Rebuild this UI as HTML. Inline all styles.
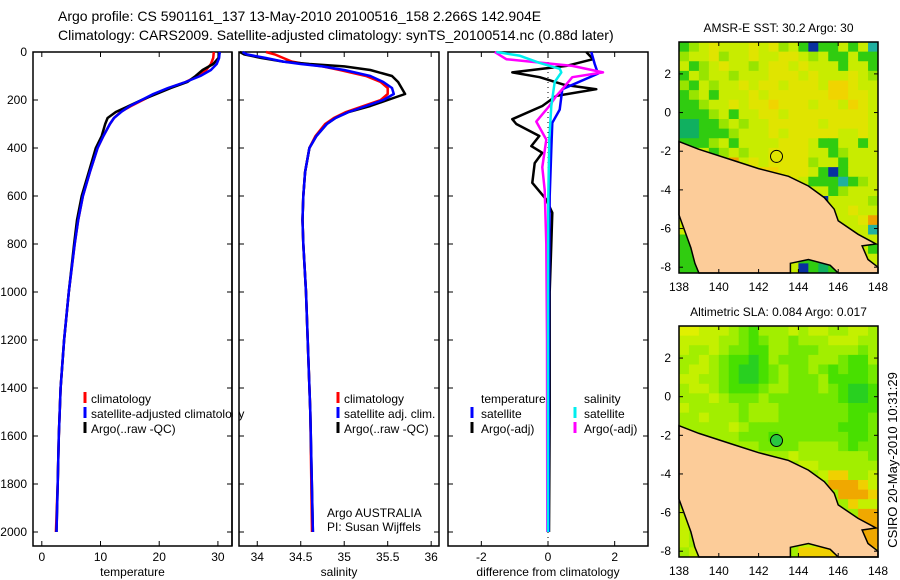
<!DOCTYPE html>
<html><head><meta charset="utf-8">
<style>
html,body{margin:0;padding:0;background:#fff;}
svg{display:block;font-family:"Liberation Sans",sans-serif;}
text{fill:#000;}
</style></head>
<body>
<svg id="fig" width="900" height="580" viewBox="0 0 900 580" xmlns="http://www.w3.org/2000/svg">
<text x="58" y="21" font-size="14">Argo profile: CS 5901161_137 13-May-2010 20100516_158 2.266S 142.904E</text>
<text x="58" y="40" font-size="14">Climatology: CARS2009. Satellite-adjusted climatology: synTS_20100514.nc (0.88d later)</text>
</svg>
<script>
// ---------- data ----------
const tDepth=[0,25,50,75,100,125,150,175,200,225,250,275,300,350,400,500,600,700,800,1000,1200,1400,1600,1800,2000];
const tClim=[29.3,29.2,28.8,28,26.6,24.5,21.6,19.2,17.2,15.2,13.4,12.3,11.6,10.5,9.5,8.2,7,6.2,5.6,4.6,3.8,3.2,2.9,2.7,2.4];
const tSat=[30.3,30.2,29.8,28.8,27,24.5,21.5,19,17,15,13.5,12.3,11.6,10.5,9.5,8.2,7,6.2,5.6,4.6,3.8,3.2,2.9,2.7,2.5];
const tArgo=[30.3,30.1,29.2,27.4,26.2,24.8,22,19.5,17,14.8,12.6,11.2,10.8,10.2,9.2,8,6.8,6.0,5.5,4.6,3.8,3.2,2.9,2.7,2.5];
const sDepth=[0,10,25,40,50,60,75,100,125,150,175,200,225,250,275,300,350,400,500,600,700,800,1000,1200,1500,2000];
const sArgo=[33.8,33.85,34.05,34.3,34.6,35.0,35.3,35.55,35.62,35.66,35.7,35.5,35.3,35.05,34.9,34.8,34.68,34.6,34.55,34.53,34.52,34.53,34.56,34.58,34.61,34.64];
const sSat=[33.83,33.88,34.1,34.3,34.5,34.75,35.0,35.3,35.45,35.55,35.57,35.45,35.25,35.05,34.9,34.8,34.68,34.6,34.55,34.53,34.52,34.53,34.56,34.58,34.61,34.64];
const sClim=[34.1,34.2,34.3,34.4,34.55,34.75,34.95,35.25,35.42,35.5,35.5,35.42,35.22,35.02,34.88,34.78,34.67,34.6,34.55,34.53,34.52,34.53,34.56,34.58,34.61,34.63];
const dTSatDepth=[0,50,90,155,240,295,405,600,1000,2000];
const dTSat=[1.3,1.4,1.5,0.43,0.35,0.13,0.1,0.05,0.03,0.02];
const dTArgoDepth=[0,30,58,85,105,137,155,183,225,280,300,350,392,420,463,545,615,670,800,1000,1500,2000];
const dTArgo=[1.15,1.35,0.55,-1.07,-0.25,0.5,1.45,0.25,-0.17,-1.07,-0.95,-0.26,-0.5,-0.17,-0.4,-0.47,-0.05,0.13,0.1,0.05,0.05,0.03];
const dSArgoDepth=[0,30,58,85,105,155,183,225,290,365,480,575,800,1200,2000];
const dSArgo=[-1.6,-1.25,0.73,1.65,0.73,0.43,0.25,0.04,-0.35,-0.05,-0.17,-0.1,-0.05,-0.03,-0.02];
const dSSatDepth=[0,15,45,70,85,125,225,365,600,1000,2000];
const dSSat=[-1.55,-0.86,-0.26,0.35,0.4,0.2,0.1,0.04,0.01,0,0];
const depthTicks=[0,200,400,600,800,1000,1200,1400,1600,1800,2000];
const tTicks=[0,10,20,30];
const sTicks=[34,34.5,35,35.5,36];
const dTicks=[-2,0,2];
const latTicks=[2,0,-2,-4,-6,-8];
const lonTicks=[138,140,142,144,146,148];
const sstGrid=[
"GgayaaayaygaGbGGaGac","gaaygaayaayyagaGGaGG","aGgayaagayyayaaaGaaG","Gagaagaaayyyayaaayag",
"gGagaayayyayyyaYYyaa","GgaGaaayayyyyyyYYyya","GGgaayayyYyyyayyaYya","GGGgaGaayyayyyyyyyya",
"DDGGgagaayyyyyayyyya","DDGGGgaaayayyyyyaaya","GGGgaGaaaayyyaGGaaGa","xxxGgagaayyyyaaGgxxa",
"xxxxxoayayyyygaaGaaa","xxxxxxxyYYyyyaGbGaaa","xxxxxxxxxxyyaGGGcGga","xxxxxxxxxxxxyaaGgaaa",
"xxxxxxxxxxxxxxbaaaag","xxxxxxxxxxxxxxxaayaa","aGxxxxxxxxxxxxxxaayo","aGxxxxxxxxxxxxxxxaac",
"Gaxxxxxxxxxxxxxxxxaa","GGxxxxxxxxxxxxxxxaaG","GGxxxxxxxxxxGGGGxxxa","GGxxxxxxxxxxbGDGGxxa"];
const slaGrid=[
"YYyyyLgGLLLyLyyLLyyL","yyyyLLgGgLLgLLLyyyLL","yLLyLggGGLLgggLLLLgL","LLyLgGGHGLgggLLLgGGL",
"LyyLgGHHGgLggLgGgGGg","yyLLgGHHGgLgggLGGGGg","LyyLgGGGgLLgggLgGHHG","LLLyLgggLgggggggGHHG",
"yLLLLLgLLLgggggggGGG","LLyLLLgLLLgggggggGGg","xxxLLyLgggggggggGGGg","xxxxxxgggGgggggggGGg",
"xxxxxxxxggggLLLLgGgg","xxxxxxxxxxxyLLLLLLLg","xxxxxxxxxxxxyyLLLLLL","xxxxxxxxxxxxxxyooLLy",
"xxxxxxxxxxxxxxxOOOoy","LLxxxxxxxxxxxxxxOOOo","Lyxxxxxxxxxxxxxxxoyy","yyxxxxxxxxxxxxxxxxOO",
"yyxxxxxxxxxxxxxxxxOO","yLxxxxxxxxxxxxxxxxOO","yLxxxxxxxxxxyyoooxOO","Lyxxxxxxxxxxooooooxo"];
const landLon=[138,139,140.8,142,143.5,144.5,145.3,145.8,146,147,147.9,147.2,147.5,148,148,146,145.6,144.5,143.6,143.6,139.0,138.8,138.6,138];
const landLat=[-1.5,-1.9,-2.5,-2.9,-3.3,-3.8,-4.4,-5.0,-5.6,-6.3,-6.8,-6.9,-7.6,-8.0,-8.4,-8.4,-7.9,-7.6,-7.8,-8.4,-8.4,-7.8,-7.0,-5.3];
const argoLon=142.9, argoLat=-2.27;

// ---------- helpers ----------
const svg=document.getElementById('fig');
const NS='http://www.w3.org/2000/svg';
function mk(tag,attrs,parent){const e=document.createElementNS(NS,tag);for(const k in attrs)e.setAttribute(k,attrs[k]);(parent||svg).appendChild(e);return e;}
function txt(x,y,s,size,anchor,parent){const e=mk('text',{x:x,y:y,'font-size':size||12,'text-anchor':anchor||'start'},parent);e.textContent=s;return e;}
const yTop=52,yBot=546;
function yD(d){return yTop+d*(532-yTop)/2000;}

function panel(name,x0,x1,vmin,vmax,ticks,xlabel,showY){
  const g=mk('g',{});
  
  
  const xs=v=>x0+(v-vmin)/(vmax-vmin)*(x1-x0);
  const box=mk('rect',{x:x0,y:yTop,width:x1-x0,height:yBot-yTop,fill:'none',stroke:'#000','stroke-width':1.5},g);
  
  
  depthTicks.forEach(d=>{
    const y=yD(d);
    mk('line',{x1:x0,x2:x0+5,y1:y,y2:y,stroke:'#000'},g);
    mk('line',{x1:x1-5,x2:x1,y1:y,y2:y,stroke:'#000'},g);
    if(showY){const t=txt(x0-6,y+4,String(d),12,'end',g);
      
      }
  });
  ticks.forEach(v=>{
    const x=xs(v);
    mk('line',{x1:x,x2:x,y1:yTop,y2:yTop+5,stroke:'#000'},g);
    mk('line',{x1:x,x2:x,y1:yBot-5,y2:yBot,stroke:'#000'},g);
    const t=txt(x,561,String(v),12,'middle',g);
    
    
  });
  const xl=txt((x0+x1)/2,576,xlabel,12,'middle',g);
  
  
  return {g,xs};
}
function series(p,depths,vals,color,name,w){
  const pts=depths.map((d,i)=>p.xs(vals[i]).toFixed(1)+','+yD(d).toFixed(1)).join(' ');
  const l=mk('polyline',{points:pts,fill:'none',stroke:color,'stroke-width':w||2.5,'stroke-linejoin':'round'},p.g);
  
  
}
function legendMark(g,x,y,color){mk('line',{x1:x,x2:x,y1:y-11,y2:y,stroke:color,'stroke-width':3},g);}

// ---------- temperature ----------
const pT=panel('temperature-panel',33,232,-1.5,32.4,tTicks,'temperature',true);
series(pT,tDepth,tClim,'#f00','temp-climatology-line');
series(pT,tDepth,tArgo,'#000','temp-argo-line');
series(pT,tDepth,tSat,'#00f','temp-satellite-line');
[['#f00','climatology'],['#00f','satellite-adjusted climatology'],['#000','Argo(..raw -QC)']].forEach((e,i)=>{
  const y=403+i*15; legendMark(pT.g,85,y,e[0]);
  const t=txt(91,y,e[1],12,'start',pT.g);
  
  
});
mk('rect',{x:232.8,y:380,width:6,height:60,fill:'#fff'},pT.g);
mk('line',{x1:232,x2:232,y1:yTop,y2:yBot,stroke:'#000','stroke-width':1.5},pT.g);

// ---------- salinity ----------
const pS=panel('salinity-panel',239,439,33.79,36.09,sTicks,'salinity',false);
series(pS,sDepth,sClim,'#f00','sal-climatology-line');
series(pS,sDepth,sArgo,'#000','sal-argo-line');
series(pS,sDepth,sSat,'#00f','sal-satellite-line');
[['#f00','climatology'],['#00f','satellite adj. clim.'],['#000','Argo(..raw -QC)']].forEach((e,i)=>{
  const y=403+i*15; legendMark(pS.g,338,y,e[0]);
  const t=txt(344,y,e[1],12,'start',pS.g);
  
  
});
const c1=txt(327,517,'Argo AUSTRALIA',12,'start',pS.g);

const c2=txt(327,531,'PI: Susan Wijffels',12,'start',pS.g);


// ---------- difference ----------
const pD=panel('difference-panel',448,648,-3.0,3.0,dTicks,'difference from climatology',false);
mk('line',{x1:pD.xs(0),x2:pD.xs(0),y1:yTop,y2:yBot,stroke:'#000','stroke-dasharray':'1,4'},pD.g);
series(pD,dTArgoDepth,dTArgo,'#000','diff-temp-argo-line');
series(pD,dTSatDepth,dTSat,'#00f','diff-temp-satellite-line');
series(pD,dSArgoDepth,dSArgo,'#f0f','diff-sal-argo-line');
series(pD,dSSatDepth,dSSat,'#0ee','diff-sal-satellite-line');
const lt=txt(481,403,'temperature',12,'start',pD.g);
const ls=txt(584,403,'salinity',12,'start',pD.g);
[[472,418,'#00f','satellite'],[472,433,'#000','Argo(-adj)'],[575,418,'#0ee','satellite'],[575,433,'#f0f','Argo(-adj)']].forEach(e=>{
  legendMark(pD.g,e[0],e[1],e[2]);
  const t=txt(e[0]+9,e[1],e[3],12,'start',pD.g);
  
  
});

// ---------- maps ----------
const sstColors={a:'#c8ec00',y:'#e0e400',Y:'#f0d400',g:'#98e400',G:'#30cc10',D:'#10b060',o:'#f0a000',b:'#0830a0',c:'#20b0a0',x:'#c8ec00'};
const slaColors={Y:'#e0f000',y:'#c4f000',L:'#a2ee00',g:'#74e800',G:'#48e000',H:'#28d020',o:'#f0d000',O:'#f0a800',x:'#a2ee00'};
function mapPanel(name,x0,x1,yT,yB,latTop,latBot,grid,colors,title,circFill){
  const g=mk('g',{});
  
  
  const lx=v=>x0+(v-138)/(148-138)*(x1-x0);
  const ly=v=>yT+(latTop-v)/(latTop-latBot)*(yB-yT);
  const rows=grid.length, cols=grid[0].length;
  const cw=(x1-x0)/cols, ch=(yB-yT)/rows;
  grid.forEach((row,r)=>{for(let c=0;c<cols;c++){const k=row[c];
    const cell=mk('rect',{x:(x0+c*cw).toFixed(2),y:(yT+r*ch).toFixed(2),width:(cw+0.5).toFixed(2),height:(ch+0.5).toFixed(2),fill:colors[k]},g);
    
    }});
  const pts=landLon.map((v,i)=>lx(v).toFixed(1)+','+ly(Math.max(landLat[i],latBot)).toFixed(1)).join(' ');
  const land=mk('polygon',{points:pts,fill:'#fccc99',stroke:'#000','stroke-width':1.5},g);
  
  
  const circ=mk('circle',{cx:lx(argoLon),cy:ly(argoLat),r:6,fill:circFill,stroke:'#000','stroke-width':1},g);
  
  
  mk('rect',{x:x0,y:yT,width:x1-x0,height:yB-yT,fill:'none',stroke:'#000','stroke-width':1.5},g);
  latTicks.forEach(v=>{const y=ly(v);
    mk('line',{x1:x0,x2:x0+4,y1:y,y2:y,stroke:'#000'},g);mk('line',{x1:x1-4,x2:x1,y1:y,y2:y,stroke:'#000'},g);
    const t=txt(x0-8,y+4,String(v),12,'end',g);
    });
  lonTicks.forEach(v=>{const x=lx(v);
    mk('line',{x1:x,x2:x,y1:yT,y2:yT+4,stroke:'#000'},g);mk('line',{x1:x,x2:x,y1:yB-4,y2:yB,stroke:'#000'},g);
    const t=txt(x,yB+18,String(v),12,'middle',g);
    });
  const tt=txt((x0+x1)/2,yT-10,title,12,'middle',g);
  
}
mapPanel('sst-map',679,878,42,273,3.65,-8.3,sstGrid,sstColors,'AMSR-E SST: 30.2 Argo: 30','none');
mapPanel('sla-map',679,878,326,557,3.66,-8.3,slaGrid,slaColors,'Altimetric SLA: 0.084 Argo: 0.017','#28c840');
const cs=txt(0,0,'CSIRO 20-May-2010 10:31:29',13,'middle');
cs.setAttribute('transform','translate(897,460) rotate(-90)');


</script>
</body></html>
